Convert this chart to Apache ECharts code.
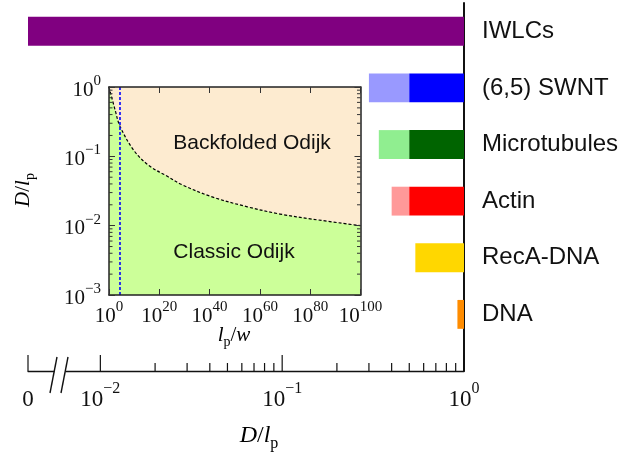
<!DOCTYPE html>
<html>
<head>
<meta charset="utf-8">
<script src="https://cdn.jsdelivr.net/npm/echarts@6/dist/echarts.min.js"></script>
<style>
  html, body { margin: 0; padding: 0; background: #ffffff; }
  #chart { width: 625px; height: 453px; }
</style>
</head>
<body>
<div id="chart"></div>
<script>
// ---- Persistence-length ranges of each polymer class (D / l_p) ----
const categories = ['IWLCs', '(6,5) SWNT', 'Microtubules', 'Actin', 'RecA-DNA', 'DNA'];
const rangeStart = [0, 0.30, 0.34, 0.40, 0.54, 0.92];   // lower end of the range
const rangeMid   = [null, 0.50, 0.50, 0.50, null, null]; // where the solid part begins
const rangeEnd   = [1, 1, 1, 1, 1, 1];

// Tick values of the broken log axis (0 sits at its left end)
const axisZero   = 0.004;
const majorTicks = [0.004, 0.01, 0.1, 1];
const minorTicks = [0.02, 0.03, 0.04, 0.05, 0.06, 0.07, 0.08, 0.09,
                    0.2, 0.3, 0.4, 0.5, 0.6, 0.7, 0.8, 0.9];

// ---- Inset: regime boundary, D/l_p against log10(l_p/w) ----
const lpOverWExp = [0, 2.4, 4.4, 10, 16, 23, 29, 41, 55, 68, 81, 100];
const boundaryD  = [1.0, 0.47, 0.27, 0.12, 0.073, 0.052, 0.039, 0.026, 0.0187, 0.0147, 0.0124, 0.0100];
const markerExp  = 4.37;
const insetXTicks = [0, 20, 40, 60, 80, 100];
const insetYMinor = [0.002, 0.003, 0.004, 0.005, 0.006, 0.007, 0.008, 0.009,
                     0.02, 0.03, 0.04, 0.05, 0.06, 0.07, 0.08, 0.09,
                     0.2, 0.3, 0.4, 0.5, 0.6, 0.7, 0.8, 0.9];

// ---- styles ----
const solidColors = ['#800080', '#0000ff', '#006400', '#ff0000', '#ffd700', '#ff8c00'];
const paleColors  = ['#800080', '#9999ff', '#90ee90', '#ff9999', '#ffd700', '#ff8c00'];
const SERIF = '"Liberation Serif", "DejaVu Serif", serif';
const SANS  = '"Liberation Sans", Arial, sans-serif';
const INK = '#111111';

// bar segments: [category, from, to, shade(0 pale / 1 solid)]
const segments = [];
categories.forEach((c, i) => {
  if (rangeMid[i] != null) {
    segments.push([i, rangeStart[i], rangeMid[i], 0]);
    segments.push([i, rangeMid[i], rangeEnd[i], 1]);
  } else {
    segments.push([i, rangeStart[i], rangeEnd[i], 1]);
  }
});

function powLabel(e, base, sup) {
  const s = e < 0 ? '\u2212' + (-e) : String(e);
  return '{' + base + '|10}{' + sup + '|' + s + '}';
}

const mainRich = {
  b: { fontFamily: SERIF, fontSize: 23, color: INK, lineHeight: 30, verticalAlign: 'bottom' },
  s: { fontFamily: SERIF, fontSize: 16, color: INK, lineHeight: 16, verticalAlign: 'top' }
};
const insetRich = {
  b: { fontFamily: SERIF, fontSize: 21, color: INK, lineHeight: 27, verticalAlign: 'bottom' },
  s: { fontFamily: SERIF, fontSize: 15, color: INK, lineHeight: 15, verticalAlign: 'top' }
};
const titleRich = {
  i: { fontFamily: SERIF, fontStyle: 'italic', fontSize: 24, color: INK, lineHeight: 28, verticalAlign: 'top' },
  r: { fontFamily: SERIF, fontSize: 24, color: INK, lineHeight: 28, verticalAlign: 'top' },
  p: { fontFamily: SERIF, fontSize: 16, color: INK, lineHeight: 16, verticalAlign: 'bottom' }
};
const insetTitleRich = {
  i: { fontFamily: SERIF, fontStyle: 'italic', fontSize: 21, color: INK, lineHeight: 24, verticalAlign: 'top' },
  r: { fontFamily: SERIF, fontSize: 21, color: INK, lineHeight: 24, verticalAlign: 'top' },
  p: { fontFamily: SERIF, fontSize: 14, color: INK, lineHeight: 14, verticalAlign: 'bottom' }
};

const chart = echarts.init(document.getElementById('chart'), null, { renderer: 'canvas' });

const option = {
  animation: false,
  backgroundColor: '#ffffff',
  grid: [
    { left: 28, right: 161, top: 3, bottom: 82 },
    { left: 109, top: 87, width: 251.5, height: 208, show: true,
      backgroundColor: '#fdebd0', borderWidth: 0 }
  ],
  xAxis: [
    { // main broken log axis
      type: 'log', logBase: 10, gridIndex: 0, min: axisZero, max: 1, position: 'bottom',
      axisLine: { show: true, onZero: false, lineStyle: { color: INK, width: 1.3 } },
      axisTick: { show: false },
      splitLine: { show: false },
      axisLabel: {
        margin: 10,
        formatter: v => v < 0.005 ? '{b|0}' : powLabel(Math.round(Math.log10(v)), 'b', 's'),
        rich: mainRich
      }
    },
    { // inset bottom
      type: 'value', gridIndex: 1, min: 0, max: 100, interval: 20, position: 'bottom', z: 5,
      axisLine: { show: true, onZero: false, lineStyle: { color: '#222', width: 1.5 } },
      axisTick: { show: true, inside: true, length: 6, lineStyle: { color: '#333', width: 1 } },
      splitLine: { show: false },
      axisLabel: { margin: 5, formatter: v => powLabel(v, 'b', 's'), rich: insetRich }
    },
    { // inset top
      type: 'value', gridIndex: 1, min: 0, max: 100, interval: 20, position: 'top', z: 5,
      axisLine: { show: true, onZero: false, lineStyle: { color: '#222', width: 1.5 } },
      axisTick: { show: true, inside: true, length: 6, lineStyle: { color: '#333', width: 1 } },
      splitLine: { show: false },
      axisLabel: { show: false }
    }
  ],
  yAxis: [
    { // category positions on the right
      type: 'value', gridIndex: 0, min: -0.5, max: 6, inverse: true, position: 'right',
      axisLine: { show: true, onZero: false, lineStyle: { color: INK, width: 2 } },
      axisTick: { show: false },
      splitLine: { show: false },
      axisLabel: {
        customValues: [0, 1, 2, 3, 4, 5],
        formatter: v => categories[Math.round(v)] || '',
        fontFamily: SANS, fontSize: 24, color: INK, margin: 18
      }
    },
    { // inset left
      type: 'log', logBase: 10, gridIndex: 1, min: 0.001, max: 1, position: 'left', z: 5,
      axisLine: { show: true, onZero: false, lineStyle: { color: '#222', width: 1.5 } },
      axisTick: { show: true, inside: true, length: 6, lineStyle: { color: '#333', width: 1 } },
      splitLine: { show: false },
      axisLabel: { margin: 8, formatter: v => powLabel(Math.round(Math.log10(v)), 'b', 's'), rich: insetRich }
    },
    { // inset right
      type: 'log', logBase: 10, gridIndex: 1, min: 0.001, max: 1, position: 'right', z: 5,
      axisLine: { show: true, onZero: false, lineStyle: { color: '#222', width: 1.5 } },
      axisTick: { show: true, inside: true, length: 6, lineStyle: { color: '#333', width: 1 } },
      splitLine: { show: false },
      axisLabel: { show: false }
    }
  ],
  series: [
    { // range bars
      type: 'custom', xAxisIndex: 0, yAxisIndex: 0, z: 3,
      encode: { x: [1, 2], y: 0 },
      data: segments,
      renderItem: (params, api) => {
        const cat = api.value(0);
        const from = Math.max(api.value(1), axisZero);
        const to = api.value(2);
        const shade = api.value(3);
        const a = api.coord([from, cat - 0.255]);
        const b = api.coord([to, cat + 0.255]);
        return {
          type: 'rect',
          shape: { x: a[0], y: a[1], width: b[0] - a[0], height: b[1] - a[1] },
          style: { fill: shade ? solidColors[cat] : paleColors[cat] }
        };
      }
    },
    { // ticks of the main axis, pointing up from the axis line
      type: 'custom', xAxisIndex: 0, yAxisIndex: 0, z: 4, silent: true,
      encode: { x: 0, y: 1 },
      data: majorTicks.map(v => [v, 6, 1]).concat(minorTicks.map(v => [v, 6, 0])),
      renderItem: (params, api) => {
        const p = api.coord([api.value(0), api.value(1)]);
        const len = api.value(2) ? 16 : 8;
        return {
          type: 'line',
          shape: { x1: p[0], y1: p[1], x2: p[0], y2: p[1] - len },
          style: { stroke: INK, lineWidth: 1.2 }
        };
      }
    },
    { // regime boundary with the classic region filled below
      type: 'line', xAxisIndex: 1, yAxisIndex: 1, z: 2,
      data: lpOverWExp.map((e, i) => [e, boundaryD[i]]),
      smooth: 0.35, symbol: 'none',
      lineStyle: { color: '#000', width: 1.2, type: [3, 2] },
      areaStyle: { color: '#ccff99', opacity: 1, origin: 'start' }
    },
    { // l_p/w marker
      type: 'line', xAxisIndex: 1, yAxisIndex: 1, z: 3,
      data: [[markerExp, 0.001], [markerExp, 1]],
      symbol: 'none',
      lineStyle: { color: '#0000ff', width: 1.6, type: [3, 2] }
    },
    { // minor ticks of the inset log axis, both sides
      type: 'custom', xAxisIndex: 1, yAxisIndex: 1, z: 6, silent: true,
      encode: { x: 0, y: 1 },
      data: insetYMinor.map(v => [0, v]),
      renderItem: (params, api) => {
        const p = api.coord([0, api.value(1)]);
        const cs = params.coordSys;
        const right = cs.x + cs.width;
        return {
          type: 'group',
          children: [
            { type: 'line', shape: { x1: cs.x, y1: p[1], x2: cs.x + 3.5, y2: p[1] }, style: { stroke: '#333', lineWidth: 1 } },
            { type: 'line', shape: { x1: right, y1: p[1], x2: right - 3.5, y2: p[1] }, style: { stroke: '#333', lineWidth: 1 } }
          ]
        };
      }
    }
  ],
  graphic: [
    // break marks on the main axis
    { type: 'rect', shape: { x: 54.5, y: 368, width: 11, height: 6 }, style: { fill: '#fff' }, z: 50 },
    { type: 'line', shape: { x1: 50, y1: 393, x2: 57, y2: 357 }, style: { stroke: INK, lineWidth: 1.4 }, z: 51 },
    { type: 'line', shape: { x1: 61, y1: 393, x2: 68, y2: 357 }, style: { stroke: INK, lineWidth: 1.4 }, z: 51 },
    // main axis title
    { type: 'text', x: 259, y: 438, z: 50,
      style: { text: '{i|D}{r|/}{i|l}{p|p}', rich: titleRich, align: 'center', verticalAlign: 'middle' } },
    // inset axis titles
    { type: 'text', x: 234, y: 337, z: 50,
      style: { text: '{i|l}{p|p}{r|/}{i|w}', rich: insetTitleRich, align: 'center', verticalAlign: 'middle' } },
    { type: 'text', x: 25, y: 190, rotation: Math.PI / 2, z: 50,
      style: { text: '{i|D}{r|/}{i|l}{p|p}', rich: insetTitleRich, align: 'center', verticalAlign: 'middle' } },
    // regime names
    { type: 'text', x: 252, y: 143, z: 50,
      style: { text: 'Backfolded Odijk', fontFamily: SANS, fontSize: 21, fill: INK, align: 'center', verticalAlign: 'middle' } },
    { type: 'text', x: 234, y: 252, z: 50,
      style: { text: 'Classic Odijk', fontFamily: SANS, fontSize: 21, fill: INK, align: 'center', verticalAlign: 'middle' } }
  ]
};

chart.setOption(option);
</script>
</body>
</html>
